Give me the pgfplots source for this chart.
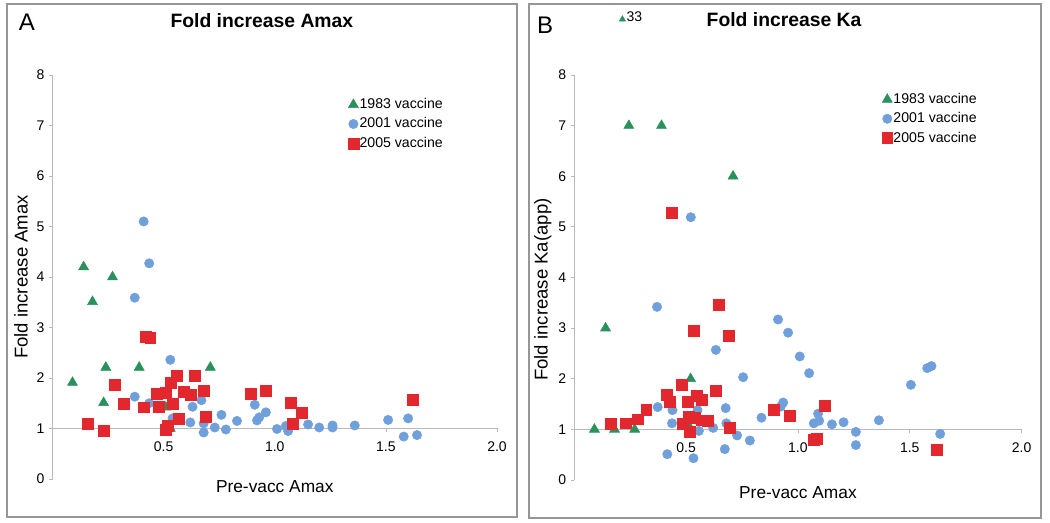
\documentclass[border=0pt]{standalone}
\usepackage{pgfplots}
\pgfplotsset{compat=1.18}
\usepackage{fontspec}
\setmainfont{Liberation Sans}
\definecolor{tri}{RGB}{42,145,92}
\definecolor{cir}{RGB}{112,160,220}
\definecolor{sq}{RGB}{226,40,46}
\definecolor{axg}{RGB}{185,185,185}
\definecolor{frm}{RGB}{150,150,150}
\pgfplotsset{
  panel/.style={
    scale only axis,
    xmin=0, xmax=2, ymin=0, ymax=8,
    axis x line=none, axis y line=left,
    axis line style={axg,-,line width=0.6pt},
    ytick={0,1,...,8}, xtick=\empty,
    tick style={axg, line width=0.6pt},
    tick align=outside, major tick length=2.6pt,
    /pgf/number format/assume math mode=true,
    yticklabel style={font=\fontsize{10.5}{12}\selectfont},
    clip=false,
    title style={font=\bfseries\fontsize{14.5}{16}\selectfont},
    legend style={draw=none, fill=none, anchor=north west,
      font=\fontsize{10.6}{12}\selectfont,
      nodes={inner sep=0.5pt, text height=8pt, text depth=2pt},
      row sep=3.5pt},
    legend cell align=left,
    legend image code/.code={\draw[mark repeat=2,mark phase=2,#1] plot coordinates {(0cm,0cm) (0.16cm,0cm) (0.32cm,0cm)};},
  },
  trip/.style={only marks, mark=triangle*, mark size=4.3pt, color=tri},
  cirp/.style={only marks, mark=*, mark size=3.5pt, color=cir},
  sqp/.style={only marks, mark=square*, mark size=4.1pt, color=sq},
}
\begin{document}
\begin{tikzpicture}
\path[use as bounding box] (0,0) rectangle (787.5pt,392.25pt);
\draw[frm, line width=0.8pt] (5.25pt,4.5pt) rectangle (387.75pt,389.25pt);
\draw[frm, line width=0.8pt] (396.75pt,3.75pt) rectangle (780.75pt,389.25pt);
\node[font=\fontsize{18}{20}\selectfont] at (20.25pt,375.75pt) {A};
\node[font=\fontsize{18}{20}\selectfont] at (408.75pt,373.5pt) {B};

% ---------------- Panel A ----------------
\begin{axis}[panel, at={(39.375pt,33pt)}, anchor=south west,
  width=333.4pt, height=303pt,
  title={Fold increase Amax},
  title style={at={(axis description cs:0.471,1.116)}, anchor=center},
  legend style={at={(axis description cs:0.655,0.952)}},
]
\addplot[trip] coordinates {
(0.09,1.91) (0.14,4.2) (0.18,3.51) (0.27,4.0) (0.24,2.21) (0.23,1.51)
(0.39,2.21) (0.71,2.21) (0.51,1.42) (0.53,1.0)
};
\addlegendentry{1983 vaccine}
\addplot[cirp] coordinates {
(0.41,5.1) (0.435,4.27) (0.37,3.59) (0.53,2.36) (0.37,1.63) (0.435,1.5)
(0.63,1.43) (0.67,1.56) (0.54,1.2) (0.62,1.12) (0.68,1.1) (0.68,0.92)
(0.73,1.02) (0.76,1.27) (0.78,0.98) (0.83,1.15) (0.91,1.47) (0.92,1.16)
(0.93,1.22) (0.96,1.32) (1.01,0.99) (1.05,1.05) (1.06,0.95) (1.15,1.08)
(1.2,1.02) (1.26,1.06) (1.26,1.02) (1.36,1.06) (1.51,1.17) (1.6,1.2)
(1.58,0.84) (1.64,0.87)
};
\addlegendentry{2001 vaccine}
\addplot[sqp] coordinates {
(0.16,1.09) (0.23,0.96) (0.28,1.86) (0.32,1.49) (0.41,1.42) (0.42,2.82)
(0.44,2.8) (0.47,1.68) (0.48,1.43) (0.51,1.7) (0.51,0.97) (0.52,1.06)
(0.53,1.91) (0.54,1.49) (0.56,2.04) (0.57,1.2) (0.59,1.73) (0.62,1.66)
(0.64,2.04) (0.68,1.75) (0.69,1.23) (0.89,1.68) (0.96,1.75) (1.07,1.51)
(1.12,1.31) (1.08,1.09) (1.62,1.56)
};
\addlegendentry{2005 vaccine}
% axis labels
\node[font=\fontsize{13}{15}\selectfont] at (axis description cs:0.5,-0.02) {Pre-vacc Amax};
\node[font=\fontsize{13.9}{16}\selectfont, rotate=90] at (axis description cs:-0.071,0.5) {Fold increase Amax};
% x axis drawn at y = 1
\draw[axg, line width=0.6pt] (axis cs:0,1) -- (axis cs:2,1);
\draw[axg, line width=0.6pt] (axis cs:0.5,1) -- ++(0,-3pt);
\draw[axg, line width=0.6pt] (axis cs:1,1) -- ++(0,-3pt);
\draw[axg, line width=0.6pt] (axis cs:1.5,1) -- ++(0,-3pt);
\draw[axg, line width=0.6pt] (axis cs:2,1) -- ++(0,-3pt);
\node[font=\fontsize{10.5}{12}\selectfont] at ([yshift=-13.9pt]axis cs:0.5,1) {0.5};
\node[font=\fontsize{10.5}{12}\selectfont] at ([yshift=-13.9pt]axis cs:1,1) {1.0};
\node[font=\fontsize{10.5}{12}\selectfont] at ([yshift=-13.9pt]axis cs:1.5,1) {1.5};
\node[font=\fontsize{10.5}{12}\selectfont] at ([yshift=-13.9pt]axis cs:2,1) {2.0};
\end{axis}

% ---------------- Panel B ----------------
\begin{axis}[panel, at={(430.7pt,32.25pt)}, anchor=south west,
  width=335.5pt, height=303.75pt,
  title={Fold increase Ka},
  title style={at={(axis description cs:0.469,1.116)}, anchor=center},
  legend style={at={(axis description cs:0.678,0.965)}},
]
\addplot[trip] coordinates {
(0.244,7.0) (0.39,7.0) (0.71,6.0) (0.14,3.0) (0.52,2.0) (0.09,1.0)
(0.18,1.0) (0.27,1.0) (0.51,1.09)
};
\addlegendentry{1983 vaccine}
\addplot[cirp] coordinates {
(0.521,5.19) (0.37,3.42) (0.911,3.17) (0.956,2.91) (0.633,2.57) (1.008,2.44)
(1.05,2.11) (0.755,2.03) (1.505,1.88) (1.578,2.21) (1.597,2.25) (1.362,1.18)
(0.373,1.44) (0.439,1.38) (0.551,1.38) (0.677,1.42) (0.437,1.12) (0.557,0.97)
(0.621,1.03) (0.68,1.12) (0.728,0.88) (0.785,0.78) (0.837,1.23) (0.923,1.45)
(0.934,1.53) (1.09,1.31) (1.071,1.12) (1.095,1.17) (1.152,1.10) (1.204,1.14)
(1.259,0.95) (1.259,0.69) (1.636,0.91) (0.416,0.51) (0.533,0.43) (0.673,0.61)
};
\addlegendentry{2001 vaccine}
\addplot[sqp] coordinates {
(0.436,5.28) (0.648,3.47) (0.534,2.95) (0.689,2.85) (0.481,1.88) (0.412,1.68)
(0.427,1.55) (0.322,1.38) (0.282,1.20) (0.229,1.12) (0.163,1.11) (0.507,1.55)
(0.548,1.67) (0.572,1.58) (0.631,1.76) (0.512,1.25) (0.539,1.22) (0.572,1.18)
(0.595,1.17) (0.484,1.11) (0.515,0.95) (0.697,1.03) (0.892,1.38) (0.965,1.27)
(1.12,1.47) (1.072,0.79) (1.084,0.82) (1.621,0.59)
};
\addlegendentry{2005 vaccine}
% off-scale point (value 33) shown above the axis
\addplot[only marks, mark=triangle*, mark size=2.7pt, color=tri, forget plot] coordinates {(0.215,9.1)};
\node[anchor=west, font=\fontsize{10.5}{12}\selectfont, inner sep=1pt] at ([xshift=2pt,yshift=2pt]axis cs:0.215,9.1) {33};
% axis labels
\node[font=\fontsize{13}{15}\selectfont] at (axis description cs:0.5,-0.032) {Pre-vacc Amax};
\node[font=\fontsize{13.9}{16}\selectfont, rotate=90] at (axis description cs:-0.07,0.47) {Fold increase Ka(app)};
\draw[axg, line width=0.6pt] (axis cs:0,1) -- (axis cs:2,1);
\draw[axg, line width=0.6pt] (axis cs:0.5,1) -- ++(0,-3pt);
\draw[axg, line width=0.6pt] (axis cs:1,1) -- ++(0,-3pt);
\draw[axg, line width=0.6pt] (axis cs:1.5,1) -- ++(0,-3pt);
\draw[axg, line width=0.6pt] (axis cs:2,1) -- ++(0,-3pt);
\node[font=\fontsize{10.5}{12}\selectfont] at ([yshift=-13.9pt]axis cs:0.5,1) {0.5};
\node[font=\fontsize{10.5}{12}\selectfont] at ([yshift=-13.9pt]axis cs:1,1) {1.0};
\node[font=\fontsize{10.5}{12}\selectfont] at ([yshift=-13.9pt]axis cs:1.5,1) {1.5};
\node[font=\fontsize{10.5}{12}\selectfont] at ([yshift=-13.9pt]axis cs:2,1) {2.0};
\end{axis}
\end{tikzpicture}
\end{document}
